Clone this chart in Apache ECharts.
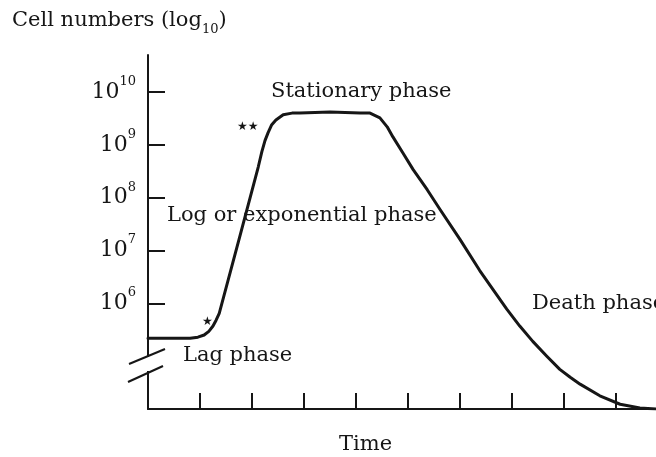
<!DOCTYPE html>
<html>
<head>
<meta charset="utf-8">
<script src="https://cdn.jsdelivr.net/npm/echarts@6/dist/echarts.min.js"></script>
<style>
html,body{margin:0;padding:0;background:#fff;}
#chart{width:656px;height:457px;}
</style>
</head>
<body>
<div id="chart"></div>
<script>
// ---- data ----
const timeValues = [0, 0.81, 0.96, 1.08, 1.17, 1.25, 1.31, 1.37, 1.77, 2.12, 2.19, 2.25, 2.31, 2.38, 2.46, 2.60, 2.77, 2.92, 3.5, 4.08, 4.27, 4.46, 4.60, 4.71, 4.90, 5.10, 5.37, 5.62, 6.0, 6.38, 6.90, 7.15, 7.40, 7.67, 7.92, 8.12, 8.31, 8.69, 9.08, 9.46, 9.77];
const logCellNumbers = [5.34, 5.34, 5.36, 5.40, 5.47, 5.57, 5.68, 5.81, 7.28, 8.58, 8.87, 9.08, 9.23, 9.38, 9.47, 9.57, 9.60, 9.60, 9.62, 9.60, 9.60, 9.51, 9.34, 9.15, 8.85, 8.53, 8.15, 7.77, 7.21, 6.62, 5.89, 5.57, 5.28, 5.0, 4.75, 4.60, 4.47, 4.25, 4.09, 4.02, 4.0];
const yTickExponents = [6, 7, 8, 9, 10];
const xTickValues = [1, 2, 3, 4, 5, 6, 7, 8, 9];
const phaseLabels = ['Stationary phase', 'Log or exponential phase', 'Death phase', 'Lag phase'];
const yAxisTitle = 'Cell numbers (log';
const xAxisTitle = 'Time';

const serif = '"DejaVu Serif", "Liberation Serif", serif';
const ink = '#161616';

const chart = echarts.init(document.getElementById('chart'), null, {renderer: 'canvas'});

const seriesData = timeValues.map((t, i) => [t, logCellNumbers[i]]);

function txt(text, x, y, size) {
  return {
    type: 'text', x: x, y: y, z: 100,
    style: {text: text, fill: ink, font: size + 'px ' + serif, verticalAlign: 'middle', align: 'left'}
  };
}
function star(text, x, y) {
  return {
    type: 'text', x: x, y: y, z: 100,
    style: {text: text, fill: ink, font: '12px "DejaVu Sans", sans-serif', verticalAlign: 'middle', align: 'left'}
  };
}

const option = {
  animation: false,
  backgroundColor: '#fff',
  grid: {left: 148, right: 0, top: 55, bottom: 48, containLabel: false},
  xAxis: {
    type: 'value', min: 0, max: 9.77,
    axisLine: {show: true, lineStyle: {color: ink, width: 2}},
    axisTick: {show: true, inside: true, length: 16, customValues: xTickValues, lineStyle: {color: ink, width: 2}},
    axisLabel: {show: false},
    splitLine: {show: false}
  },
  yAxis: {
    type: 'value', min: 4, max: 10.7,
    axisLine: {show: true, onZero: false, lineStyle: {color: ink, width: 2}},
    axisTick: {show: true, inside: true, length: 17, customValues: yTickExponents, lineStyle: {color: ink, width: 2}},
    axisLabel: {
      show: true, customValues: yTickExponents, margin: 12,
      formatter: v => '{b|10}{s|' + v + '}',
      rich: {
        b: {fontFamily: serif, fontSize: 22, color: ink, lineHeight: 34, verticalAlign: 'middle'},
        s: {fontFamily: serif, fontSize: 13, color: ink, lineHeight: 14, verticalAlign: 'top'}
      }
    },
    splitLine: {show: false}
  },
  series: [{
    type: 'line',
    data: seriesData,
    showSymbol: false,
    smooth: false,
    lineStyle: {color: ink, width: 3, join: 'round', cap: 'round'},
    z: 5
  }],
  graphic: [
    // axis break on the y axis
    {type: 'rect', shape: {x: 144, y: 357, width: 10, height: 14}, style: {fill: '#fff'}, z: 50},
    {type: 'line', shape: {x1: 129, y1: 364, x2: 165, y2: 349}, style: {stroke: ink, lineWidth: 2}, z: 51},
    {type: 'line', shape: {x1: 128, y1: 382, x2: 163, y2: 366}, style: {stroke: ink, lineWidth: 2}, z: 51},
    // y axis title with subscript
    {
      type: 'text', x: 12, y: 21, z: 100,
      style: {
        text: '{a|' + yAxisTitle + '}{s|10}{a|)}',
        verticalAlign: 'middle', align: 'left',
        rich: {
          a: {fontFamily: serif, fontSize: 21, fill: ink, lineHeight: 30, verticalAlign: 'middle'},
          s: {fontFamily: serif, fontSize: 13, fill: ink, lineHeight: 14, verticalAlign: 'bottom'}
        }
      }
    },
    txt(phaseLabels[0], 271, 92, 21),
    txt(phaseLabels[1], 167, 216, 21),
    txt(phaseLabels[2], 532, 304, 21),
    txt(phaseLabels[3], 183, 356, 21),
    txt(xAxisTitle, 339, 445, 21),
    star('\u2605\u2605', 237, 127),
    star('\u2605', 202, 322)
  ]
};
chart.setOption(option);
</script>
</body>
</html>
